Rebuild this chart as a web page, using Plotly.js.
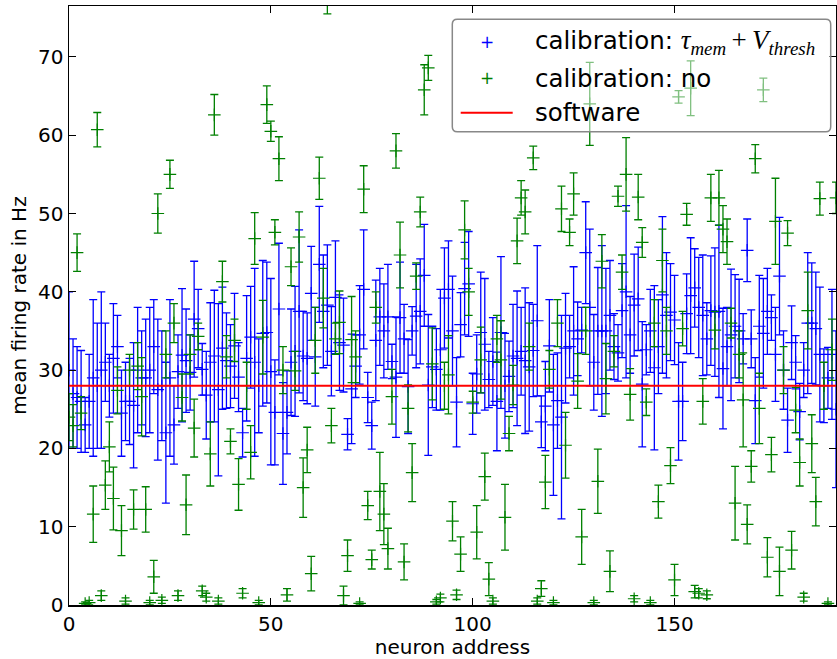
<!DOCTYPE html>
<html>
<head>
<meta charset="utf-8">
<script src="https://cdn.plot.ly/plotly-3.0.1.min.js"></script>
<style>
  html, body { margin: 0; padding: 0; background: #ffffff; }
  #chart { width: 837px; height: 659px; }
</style>
</head>
<body>
<div id="chart"></div>
<script>
// Mean firing rate per neuron (Hz) after tau_mem + V_thresh calibration
const calibratedRate = [
  30, 27, 26.5, 26, 23, 26, 29, 28, 30, 31,
  28, 31.5, 33, 24.5, 26, 26, 25.5, 30, 29, 29,
  30, 33, 27.5, 28, 22, 29, 23, 29.8, 31.9, 31.2,
  29.7, 36.5, 35.3, 30.1, 26.8, 31, 31.8, 27.5, 32.8, 31.2,
  30.5, 33.1, 29.1, 22, 31.5, 34.2, 31, 28, 34.7, 34.8,
  29.8, 24.6, 37.8, 21.9, 24.6, 31, 32.4, 37.5, 31.8, 31.5,
  39.8, 31.7, 43.5, 37.5, 38.3, 32.4, 39.3, 33.5, 33.2, 21.8,
  27.6, 30.5, 34.5, 40.3, 26.5, 22.9, 33.8, 36.8, 35, 36.8,
  31.1, 29.1, 36.7, 34, 27.9, 35, 36.9, 37.5, 42.1, 28.1,
  30.4, 30.1, 32.6, 39.2, 40.3, 35, 25.9, 35.8, 40.4, 41,
  25.7, 29.5, 34.8, 33.3, 28.8, 31.1, 26, 34.8, 28, 29.2,
  31.8, 31.5, 32.4, 31.2, 30.4, 32.5, 36.3, 23.4, 25.4, 33.1,
  23, 26.1, 24, 32.8, 33, 35, 34, 35.1, 45, 38,
  31, 35, 35, 35, 37, 33, 32.2, 37.6, 40, 34.5,
  38.3, 39.1, 28.2, 32.6, 35, 30.3, 33, 39.6, 37, 37.4,
  36.4, 26, 26, 37.2, 39.5, 40.5, 38, 37, 34, 37.6,
  37.4, 37.5, 30.2, 33, 34.5, 35.6, 35, 34, 45.3, 34,
  26.1, 35.6, 34.7, 37.5, 36.7, 32, 42, 30, 23.6, 33.5,
  31, 24.7, 30, 36, 36, 35.3, 32, 28, 29, 32,
  25
];
const calibratedErr = [
  10, 7, 6.5, 6.5, 3.5, 6, 10, 8, 10, 5,
  4, 7, 4, 5.5, 5, 5.5, 8, 8, 6, 7.5,
  8, 6, 9, 7, 9, 10, 5, 4.7, 8.5, 6.6,
  4.8, 7.4, 5, 3.3, 5.6, 7.6, 8.4, 11, 7.8, 6.1,
  5.3, 6.7, 4.4, 3.1, 8, 6.5, 12, 6, 9.3, 9,
  11.9, 6.7, 8.4, 6.5, 5.3, 6.8, 8.3, 10.4, 5.7, 5.8,
  6, 6.3, 7.4, 7.2, 7.7, 5.7, 7.2, 6.1, 6, 2,
  7, 4, 6.3, 7.6, 3.2, 3, 7.7, 6.2, 6, 6.7,
  2.2, 7.7, 7.1, 4.4, 6, 3.1, 6.6, 6.7, 6.5, 9,
  5.2, 5.2, 7.7, 6.4, 6.2, 7, 5.7, 4.1, 5.9, 6.7,
  3.9, 5, 7.7, 8.4, 3.6, 5.6, 6.3, 9.7, 6.7, 4.5,
  6.6, 8.6, 5.6, 9.3, 8.2, 5.9, 9.6, 3.3, 5.7, 5.9,
  9, 6.1, 13, 7, 4, 8.2, 4.7, 2.9, 6.5, 10,
  6.1, 8.1, 10.9, 8, 7, 4.2, 3.6, 6, 11, 4.9,
  6.5, 6.6, 8, 3.2, 5.3, 10.5, 6, 10, 8, 6.2,
  5.7, 7.5, 5, 5.1, 7.4, 5, 6.4, 7.7, 4.6, 7,
  8.2, 11, 7.7, 5, 8.4, 6.6, 6.6, 3.2, 4, 3.7,
  5.5, 6.5, 7, 5.5, 2.9, 6, 7.5, 5, 4.1, 4.7,
  3.4, 3.6, 3.5, 9, 7.7, 7.2, 8.6, 4.7, 3.9, 8.3,
  10
];

// Mean firing rate per neuron (Hz) without calibration
const uncalibratedRate = [
  24, 22.9, 45, 24.5, 0.2, 0.3, 11.6, 60.7, 1.2, 15.3,
  20.2, 13.6, 27.4, 9.5, 0.5, 30, 12.2, 30.5, 26.6, 12.2,
  0.3, 3.6, 50, 0.6, 32, 55, 36, 1.2, 26.5, 12.8,
  32, 22.6, 34.3, 1.8, 1.0, 19.3, 62.6, 0.5, 41.3, 31.7,
  20.9, 33.8, 15.4, 1.5, 28, 19.5, 46.8, 0.3, 34.2, 63.9,
  60.5, 47.6, 57, 30, 1.3, 43.2, 29.9, 47, 15, 19.8,
  4, 33.8, 54.5, 39.2, 77.5, 22.9, 34, 36.1, 1.2, 6.3,
  33.9, 31.7, 0.2, 53.1, 12.7, 5.8, 38, 14.5, 11.6, 7.2,
  26.6, 58, 44.7, 5.5, 25.1, 16.9, 42, 50.2, 65.8, 68.6,
  30.8, 0.4, 0.9, 28, 29.4, 10.7, 1.3, 6.5, 47.9, 40,
  25.9, 9.3, 31.3, 16.4, 3.3, 0.5, 34, 31.3, 11.2, 21.9,
  28.1, 46.5, 52, 50.2, 33, 57.1, 0.5, 2.1, 15.7, 30.1,
  0.3, 36, 50.6, 20.4, 47.6, 52.5, 28.6, 8.7, 35, 64,
  0.3, 15.8, 43.9, 28.9, 4.3, 32.4, 52.2, 42.5, 55, 26.9,
  0.8, 52.1, 46.3, 25.9, 0.3, 36, 13.2, 44, 35, 17.8,
  3.2, 64.9, 35.3, 49.9, 66, 1.7, 1.5, 26, 1.3, 52,
  35.1, 52, 48, 46.4, 36, 13, 32, 26.2, 10.3, 17.7,
  57, 25.1, 65.8, 6.1, 19.2, 49, 4.3, 30, 47.5, 7,
  24.9, 18.2, 1, 37.6, 20.6, 13.2, 51.9, 28, 0.2, 32.6,
  52
];
const uncalibratedErr = [
  3, 2.7, 2.4, 2.1, 0.2, 0.3, 3.6, 2.2, 0.6, 3.1,
  3.2, 4, 3, 3.2, 0.4, 2, 2.5, 3, 5, 2.9,
  0.3, 2.1, 2.5, 0.4, 3, 1.8, 2.5, 0.6, 3, 3.8,
  2.5, 3.7, 1.7, 0.6, 0.5, 4.1, 2.6, 0.4, 2.6, 2.7,
  1.6, 2.7, 3.3, 0.6, 3, 3.4, 3.3, 0.3, 4.7, 2.4,
  1.3, 1.6, 2.8, 3, 0.8, 2.4, 2.5, 3.2, 3.8, 2.9,
  2.2, 4.2, 2.7, 3.8, 2, 2.2, 2, 4, 1.2, 2,
  5.5, 3.3, 0.2, 3, 1.8, 1.2, 2, 5, 3.9, 2.6,
  3.5, 2.2, 4.2, 2.3, 3, 3.7, 1.7, 1.9, 3.2, 1.6,
  4.6, 0.3, 0.5, 3, 5, 2.5, 0.6, 2.2, 3.7, 3,
  1.4, 3.4, 4.2, 3, 2.1, 0.4, 3, 5, 4.2, 2.2,
  2.5, 2.9, 2.2, 2.8, 3, 1.5, 0.4, 1, 3.4, 2.4,
  0.3, 3, 2.9, 4.2, 1.7, 2.7, 3.5, 3.5, 3, 5.3,
  0.3, 4.1, 3.4, 4.5, 2.6, 2, 1.3, 2.2, 4.7, 3.3,
  0.4, 2.9, 1.9, 1.7, 0.3, 3, 2.1, 4, 3, 2.3,
  2, 0.8, 2.2, 1.4, 3.5, 0.8, 0.6, 2.9, 0.5, 3,
  2.4, 3.5, 3, 2.9, 1.9, 4.7, 3, 6, 2.5, 2,
  1.8, 4.5, 1.5, 2.5, 2.2, 5.5, 3.1, 3, 1.6, 2.4,
  2.9, 3, 0.5, 4.9, 3.7, 3.1, 2.1, 3, 0.2, 3.9,
  2
];

// Reference rate from the software simulation (Hz)
const softwareRate = 28.0;

// Axis extents and tick labels
const addressRange = [0, 190];
const rateRange = [0, 76.5];
const addressTicks = [0, 50, 100, 150];
const rateTicks = [0, 10, 20, 30, 40, 50, 60, 70];

const mathStyle = 'font-family:\'Liberation Serif\', serif;font-size:27px';
const legendLabels = [
  'calibration:\u00a0<span style="' + mathStyle + '"><i>τ</i><sub><i>mem</i></sub>\u2009+\u2009<i>V</i><sub><i>thresh</i></sub></span>',
  'calibration: no',
  'software'
];

const neuronAddress = calibratedRate.map((_, i) => i);

const BLUE = '#0000ff';
const GREEN = '#008000';
const RED = '#ff0000';

function errTrace(y, err, color) {
  return {
    type: 'scatter',
    mode: 'markers',
    x: neuronAddress,
    y: y,
    showlegend: false,
    hoverinfo: 'x+y',
    marker: { symbol: 'cross-thin', size: 9, color: color, line: { color: color, width: 1.2 } },
    error_y: { type: 'data', array: err, visible: true, color: color, thickness: 1.3, width: 4 }
  };
}

const traces = [
  errTrace(calibratedRate, calibratedErr, BLUE),
  errTrace(uncalibratedRate, uncalibratedErr, GREEN),
  {
    type: 'scatter',
    mode: 'lines',
    x: addressRange,
    y: [softwareRate, softwareRate],
    showlegend: false,
    hoverinfo: 'y',
    line: { color: RED, width: 2 }
  }
];

// plot area in pixels (used to place the legend box)
const PL = 69, PR = 836, PT = 6, PB = 605;
const px = v => (v - PL) / (PR - PL);
const py = v => (PB - v) / (PB - PT);

function roundedRect(x0, y0, x1, y1, r) {
  const X0 = px(x0), X1 = px(x1), Y0 = py(y1), Y1 = py(y0);
  const rx = r / (PR - PL), ry = r / (PB - PT);
  return `M ${X0 + rx},${Y1} L ${X1 - rx},${Y1} Q ${X1},${Y1} ${X1},${Y1 - ry} ` +
         `L ${X1},${Y0 + ry} Q ${X1},${Y0} ${X1 - rx},${Y0} L ${X0 + rx},${Y0} ` +
         `Q ${X0},${Y0} ${X0},${Y0 + ry} L ${X0},${Y1 - ry} Q ${X0},${Y1} ${X0 + rx},${Y1} Z`;
}

const legendRows = [41.7, 78.3, 112.7];
const legendTextX = 532.7;
const legendSymX = 486.7;

const shapes = [
  {
    type: 'path', xref: 'paper', yref: 'paper', layer: 'above',
    path: roundedRect(452.3, 19.3, 830.7, 131.7, 5),
    fillcolor: 'rgba(255,255,255,0.5)',
    line: { color: '#888888', width: 1.5 }
  },
  {
    type: 'line', xref: 'paper', yref: 'paper', layer: 'above',
    x0: px(460.7), x1: px(512.7), y0: py(legendRows[2]), y1: py(legendRows[2]),
    line: { color: RED, width: 2 }
  }
];

const annotations = [
  { text: '+', color: BLUE, row: 0 },
  { text: '+', color: GREEN, row: 1 }
].map(s => ({
  xref: 'paper', yref: 'paper', x: px(legendSymX), y: py(legendRows[s.row]),
  xanchor: 'center', yanchor: 'middle', showarrow: false,
  text: s.text, font: { family: 'DejaVu Sans', size: 17, color: s.color }
})).concat(legendLabels.map((t, i) => ({
  xref: 'paper', yref: 'paper', x: px(legendTextX), y: py(legendRows[i]),
  xanchor: 'left', yanchor: 'middle', showarrow: false,
  text: t, font: { family: 'DejaVu Sans', size: 24.5, color: '#000000' }
})));

const axisStyle = {
  showline: true, linecolor: '#000000', linewidth: 1.5, mirror: 'ticks',
  ticks: 'inside', ticklen: 7, tickwidth: 1, tickcolor: '#000000',
  showgrid: false, zeroline: false,
  tickfont: { family: 'DejaVu Sans', size: 20, color: '#000000' }
};

const layout = {
  width: 837, height: 659,
  margin: { l: PL, r: 837 - PR, t: PT, b: 659 - PB, pad: 0 },
  paper_bgcolor: '#ffffff', plot_bgcolor: '#ffffff',
  font: { family: 'DejaVu Sans', color: '#000000' },
  showlegend: false,
  xaxis: Object.assign({}, axisStyle, {
    range: addressRange, tickmode: 'array', tickvals: addressTicks,
    ticktext: addressTicks.map(String),
    title: { text: 'neuron address', font: { family: 'DejaVu Sans', size: 20 }, standoff: 6 }
  }),
  yaxis: Object.assign({}, axisStyle, {
    range: rateRange, tickmode: 'array', tickvals: rateTicks,
    ticktext: rateTicks.map(String),
    title: { text: 'mean firing rate in Hz', font: { family: 'DejaVu Sans', size: 20 }, standoff: 6 }
  }),
  shapes: shapes,
  annotations: annotations
};

Plotly.newPlot('chart', traces, layout, { displayModeBar: false, staticPlot: true });
</script>
</body>
</html>
